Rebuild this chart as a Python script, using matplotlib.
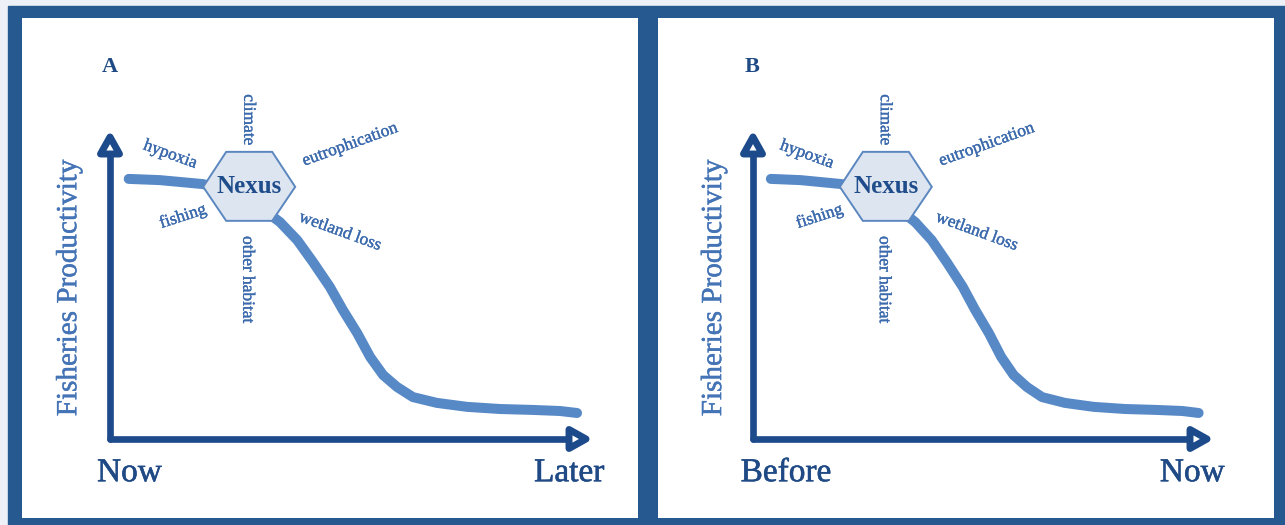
import matplotlib
matplotlib.use("Agg")
import matplotlib.pyplot as plt
import matplotlib.transforms as mtransforms
import matplotlib.patheffects as pe
from matplotlib.patches import Polygon, Rectangle

# ---------------- data ----------------
time_pts = [0.039, 0.104, 0.194, 0.281, 0.354, 0.390, 0.423, 0.458, 0.485,
            0.515, 0.542, 0.569, 0.598, 0.631, 0.681, 0.744, 0.8125, 0.881,
            0.9375, 0.973]
productivity = [0.850, 0.846, 0.833, 0.794, 0.709, 0.650, 0.578, 0.497, 0.422,
                0.346, 0.268, 0.209, 0.170, 0.137, 0.118, 0.105, 0.098, 0.095,
                0.0915, 0.085]
panel_letters = ["A", "B"]
start_labels = ["Now", "Before"]
end_labels = ["Later", "Now"]
y_title = "Fisheries Productivity"
hub_label = "Nexus"
hub_pos = (0.29, 0.824)
factor_labels = ["climate", "eutrophication", "wetland loss",
                 "other habitat", "fishing", "hypoxia"]

# ---------------- layout / style ----------------
W, H = 1285, 525
factor_offsets = [(-1, 67), (101, 42), (91, -45), (-2, -93), (-66, -30), (-79, 32)]
factor_rot = [-90, 20, -20, -90, 18, -20]
panel_boxes = [(22, 18, 616, 500), (658, 18, 616, 500)]   # left, top, w, h (px)
origins = [(110, 439), (753, 439)]
x_units = [480, 458]
y_unit = 306

frame_col = "#26598f"
axis_col = "#1d4a8a"
curve_col = "#4f83c4"
label_col = "#3b6aad"
nexus_col = "#1f4c8a"
hex_face = "#dde5f1"
hex_edge = "#5b87c0"
ytitle_col = "#4474b6"
end_col = "#1f4a85"
serif = ["Liberation Serif", "DejaVu Serif"]


def thick(col, w=0.5):
    return [pe.withStroke(linewidth=w, foreground=col)]


fig = plt.figure(figsize=(W / 100, H / 100), dpi=100)
fig.patch.set_facecolor("#edf1f7")
fig.add_artist(Rectangle((8 / W, 0), 1 - 8 / W, (H - 6) / H,
                         transform=fig.transFigure, color=frame_col, zorder=0))

hex_verts = [(-46, 0), (-23, 35), (23, 35), (46, 0), (23, -34), (-23, -34)]

for i in range(2):
    l, t, w, h = panel_boxes[i]
    ox, oy = origins[i]
    xu = x_units[i]
    ax = fig.add_axes([l / W, (H - t - h) / H, w / W, h / H])
    ax.set_facecolor("white")
    for s in ax.spines.values():
        s.set_visible(False)
    ax.set_xticks([])
    ax.set_yticks([])
    ax.set_xlim((l - ox) / xu, (l + w - ox) / xu)
    ax.set_ylim((oy - (t + h)) / y_unit, (oy - t) / y_unit)

    # axes arrows
    ax.plot([0, 0], [0, 1 - 20 / y_unit], color=axis_col, lw=4.8,
            solid_capstyle="round", zorder=3)
    ax.plot([0, 1 - 20 / xu], [0, 0], color=axis_col, lw=4.8,
            solid_capstyle="round", zorder=3)
    tr_y = mtransforms.Affine2D() + mtransforms.ScaledTranslation(0, 1, ax.transData)
    tr_x = mtransforms.Affine2D() + mtransforms.ScaledTranslation(1, 0, ax.transData)
    ax.add_patch(Polygon([(0, -4), (-9.5, -21), (9.5, -21)], closed=True,
                         transform=tr_y, facecolor="white", edgecolor=axis_col,
                         lw=5.0, joinstyle="round", zorder=4))
    ax.add_patch(Polygon([(-4, 0), (-21, 9.5), (-21, -9.5)], closed=True,
                         transform=tr_x, facecolor="white", edgecolor=axis_col,
                         lw=5.0, joinstyle="round", zorder=4))

    # curve
    ax.plot(time_pts, productivity, color=curve_col, lw=7.2, alpha=0.95,
            solid_capstyle="round", solid_joinstyle="round", zorder=2)

    # nexus hexagon
    tr_h = mtransforms.Affine2D() + mtransforms.ScaledTranslation(
        hub_pos[0], hub_pos[1], ax.transData)
    ax.add_patch(Polygon(hex_verts, closed=True, transform=tr_h,
                         facecolor=hex_face, edgecolor=hex_edge, lw=1.4, zorder=5))
    ax.annotate(hub_label, xy=hub_pos, xytext=(0, 0), textcoords="offset pixels",
                ha="center", va="center", fontsize=18, fontweight="bold",
                family=serif, color=nexus_col, zorder=6)
    for lab, (dx, dy), r in zip(factor_labels, factor_offsets, factor_rot):
        ax.annotate(lab, xy=hub_pos, xytext=(dx, dy), textcoords="offset pixels",
                    ha="center", va="center", rotation=r, rotation_mode="anchor",
                    fontsize=12.5, family=serif, color=label_col, zorder=6,
                    path_effects=thick(label_col, 0.25))

    # texts
    ax.text(-0.018, 1.216, panel_letters[i], ha="left", va="center",
            fontsize=16, fontweight="bold", family=serif, color=end_col)
    ax.text(-0.085, 0.493, y_title, rotation=90, ha="center", va="center",
            fontsize=21, family=serif, color=ytitle_col,
            path_effects=thick(ytitle_col, 0.3))
    ax.text(-0.027, -0.111, start_labels[i], ha="left", va="center",
            fontsize=24, family=serif, color=end_col,
            path_effects=thick(end_col, 0.4))
    ax.text(1.03, -0.111, end_labels[i], ha="right", va="center",
            fontsize=24, family=serif, color=end_col,
            path_effects=thick(end_col, 0.4))

fig.savefig("out.png", dpi=100, facecolor=fig.get_facecolor())
